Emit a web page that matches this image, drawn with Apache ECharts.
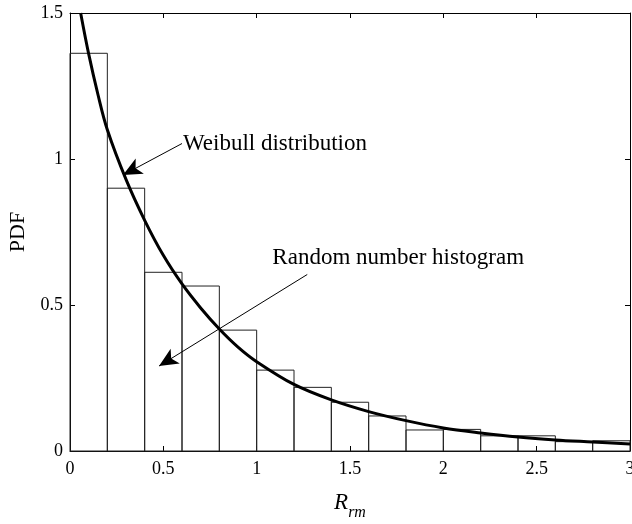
<!DOCTYPE html>
<html>
<head>
<meta charset="utf-8">
<script src="https://cdn.jsdelivr.net/npm/echarts@6/dist/echarts.min.js"></script>
<style>
html,body{margin:0;padding:0;background:#fff;}
#main{width:632px;height:524px;}
</style>
</head>
<body>
<div id="main"></div>
<script>
// Histogram bins (R_rm edges) and heights (PDF)
var binEdges = [0, 0.2, 0.4, 0.6, 0.8, 1.0, 1.2, 1.4, 1.6, 1.8, 2.0, 2.2, 2.4, 2.6, 2.8, 3.0];
var histValues = [1.362, 0.900, 0.612, 0.565, 0.414, 0.277, 0.218, 0.167, 0.120, 0.072, 0.074, 0.052, 0.052, 0.032, 0.035];

// Weibull PDF curve
var curveX = [0.057, 0.1, 0.15, 0.2, 0.3, 0.4, 0.5, 0.6, 0.7, 0.8, 0.9, 1.0, 1.2, 1.4, 1.6, 1.8, 2.0, 2.2, 2.4, 2.6, 2.8, 3.0];
var curveY = [1.5, 1.36, 1.22, 1.1, 0.93, 0.79, 0.67, 0.572, 0.49, 0.418, 0.356, 0.306, 0.228, 0.175, 0.135, 0.104, 0.079, 0.062, 0.048, 0.038, 0.031, 0.024];

// Tick values
var xTicks = [0, 0.5, 1, 1.5, 2, 2.5, 3];
var yTicks = [0, 0.5, 1, 1.5];

// Annotations: text, text anchor, arrow start, arrow tip (data coordinates)
var annoText = ['Weibull distribution', 'Random number histogram'];
var annoTextPos = [[0.605, 1.053], [1.084, 0.661]];
var annoArrowFrom = [[0.600, 1.053], [1.271, 0.6045]];
var annoArrowTo = [[0.284, 0.945], [0.477, 0.291]];

var histData = histValues.map(function (v, i) { return [binEdges[i], binEdges[i + 1], v]; });
var curveData = curveX.map(function (x, i) { return [x, curveY[i]]; });

var serif = 'Liberation Serif, Times New Roman, serif';
var chart = echarts.init(document.getElementById('main'), null, {renderer: 'canvas'});

var tickInterval = xTicks[1] - xTicks[0];
var yInterval = yTicks[1] - yTicks[0];

function axisCommon(show) {
  return {
    axisLine: {show: true, onZero: false, lineStyle: {color: '#000', width: 1}},
    axisTick: {show: true, inside: true, length: 5, lineStyle: {color: '#000', width: 1}},
    splitLine: {show: false},
    axisLabel: {show: show, color: '#000', fontFamily: serif, fontSize: 18}
  };
}

var option = {
  backgroundColor: '#fff',
  animation: false,
  grid: {left: 70, right: 2, top: 13, bottom: 73, containLabel: false, outerBoundsMode: 'none'},
  xAxis: [
    Object.assign({
      type: 'value', min: xTicks[0], max: xTicks[xTicks.length - 1], interval: tickInterval, position: 'bottom',
      name: '{a|R}{b|rm}', nameLocation: 'middle', nameGap: 40,
      nameTextStyle: {
        rich: {
          a: {fontFamily: serif, fontStyle: 'italic', fontSize: 23, color: '#000', lineHeight: 26, verticalAlign: 'top'},
          b: {fontFamily: serif, fontStyle: 'italic', fontSize: 16, color: '#000', lineHeight: 16, verticalAlign: 'top', padding: [14, 0, 0, 0]}
        }
      }
    }, axisCommon(true), {axisLabel: {show: true, color: '#000', fontFamily: serif, fontSize: 18, margin: 9}}),
    Object.assign({type: 'value', min: xTicks[0], max: xTicks[xTicks.length - 1], interval: tickInterval, position: 'top'}, axisCommon(false))
  ],
  yAxis: [
    Object.assign({
      type: 'value', min: yTicks[0], max: yTicks[yTicks.length - 1], interval: yInterval, position: 'left',
      name: 'PDF', nameLocation: 'middle', nameGap: 41,
      nameTextStyle: {fontFamily: serif, fontSize: 22, color: '#000'}
    }, axisCommon(true), {axisLabel: {show: true, color: '#000', fontFamily: serif, fontSize: 18, margin: 7}}),
    Object.assign({type: 'value', min: yTicks[0], max: yTicks[yTicks.length - 1], interval: yInterval, position: 'right'}, axisCommon(false))
  ],
  series: [
    {
      type: 'custom',
      xAxisIndex: 0, yAxisIndex: 0,
      silent: true,
      data: histData,
      renderItem: function (params, api) {
        var p0 = api.coord([api.value(0), 0]);
        var p1 = api.coord([api.value(1), api.value(2)]);
        return {
          type: 'rect',
          shape: {x: p0[0], y: p1[1], width: p1[0] - p0[0], height: p0[1] - p1[1]},
          style: {fill: 'rgba(0,0,0,0)', stroke: '#222', lineWidth: 1}
        };
      },
      z: 2
    },
    {
      type: 'line',
      xAxisIndex: 0, yAxisIndex: 0,
      data: curveData,
      smooth: 0.35,
      showSymbol: false,
      symbol: 'none',
      clip: true,
      silent: true,
      lineStyle: {color: '#000', width: 3},
      z: 3,
      markLine: {
        silent: true,
        symbol: ['none', 'arrow'],
        symbolSize: [13, 19],
        label: {show: false},
        lineStyle: {color: '#000', width: 1, type: 'solid'},
        emphasis: {disabled: true},
        data: annoArrowFrom.map(function (f, i) {
          return [{coord: f}, {coord: annoArrowTo[i]}];
        })
      },
      markPoint: {
        silent: true,
        symbol: 'circle',
        symbolSize: 0,
        data: annoText.map(function (t, i) {
          return {
            coord: annoTextPos[i],
            label: {
              show: true, position: [0, 0], align: 'left', verticalAlign: 'middle',
              formatter: t, color: '#000', fontFamily: serif, fontSize: 23
            }
          };
        })
      }
    }
  ]
};
chart.setOption(option);
</script>
</body>
</html>
